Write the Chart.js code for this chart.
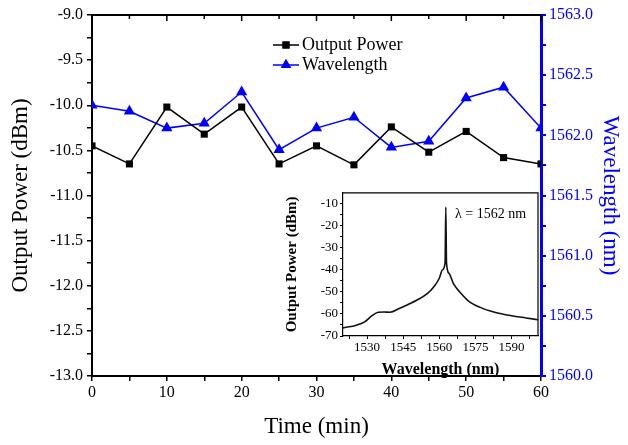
<!DOCTYPE html>
<html>
<head>
<meta charset="utf-8">
<script src="https://cdn.jsdelivr.net/npm/chart.js@4.4.0/dist/chart.umd.min.js"></script>
<style>
  html, body { margin: 0; padding: 0; background: #fff; }
  #wrap { position: relative; width: 628px; height: 445px; }
  #main { position: absolute; left: 0; top: 0; }
  #inset { position: absolute; left: 283px; top: 183px; }
</style>
</head>
<body>
<div id="wrap">
  <canvas id="main" width="628" height="445"></canvas>
  <canvas id="inset" width="257" height="200"></canvas>
</div>
<script>
// main chart data (time in min)
var times = [0, 5, 10, 15, 20, 25, 30, 35, 40, 45, 50, 55, 60];
var outputPower = [-10.45, -10.65, -10.02, -10.32, -10.02, -10.65, -10.45, -10.66, -10.24, -10.52, -10.29, -10.58, -10.65];
var wavelength = [1562.25, 1562.20, 1562.06, 1562.10, 1562.36, 1561.88, 1562.06, 1562.15, 1561.90, 1561.95, 1562.31, 1562.40, 1562.06];

// tick positions
var timeTicks = [0, 5, 10, 15, 20, 25, 30, 35, 40, 45, 50, 55, 60];
var powerTicks = [-13, -12.75, -12.5, -12.25, -12, -11.75, -11.5, -11.25, -11, -10.75, -10.5, -10.25, -10, -9.75, -9.5, -9.25, -9];
var wlTicks = [1560, 1560.25, 1560.5, 1560.75, 1561, 1561.25, 1561.5, 1561.75, 1562, 1562.25, 1562.5, 1562.75, 1563];

// inset spectrum
var specWl = [1520, 1525.6, 1529, 1531.8, 1534.6, 1537, 1539.5, 1543.6, 1547, 1550.6, 1555, 1558, 1560, 1561.3, 1562.4, 1562.7, 1563.0, 1564, 1566, 1568.5, 1572, 1577, 1583, 1590, 1596, 1601];
var specDbm = [-66.3, -65.1, -63.6, -61, -59.2, -59.1, -59.2, -57.4, -55.7, -53.8, -50.8, -47.3, -43.8, -40, -36.8, -11.5, -36.8, -41.5, -46.5, -50, -54, -57, -59.2, -60.8, -61.8, -62.6];
var specXTicks = [1522.5, 1530, 1537.5, 1545, 1552.5, 1560, 1567.5, 1575, 1582.5, 1590, 1597.5];
var specYTicks = [-70, -65, -60, -55, -50, -45, -40, -35, -30, -25, -20, -15, -10];

var serif = "'Liberation Serif', 'Times New Roman', serif";
var blue = '#0000ff';

function isMultiple(v, step) {
    return Math.abs(v / step - Math.round(v / step)) < 1e-6;
}

var pts1 = [], pts2 = [];
for (var i = 0; i < times.length; i++) {
    pts1.push({x: times[i], y: outputPower[i]});
    pts2.push({x: times[i], y: wavelength[i]});
}

// frame on top + inward ticks, and the legend inside the plot
var framePlugin = {
    id: 'frame',
    afterDraw: function(chart) {
        var ctx = chart.ctx, a = chart.chartArea, xs = chart.scales.x;
        ctx.save();
        ctx.strokeStyle = '#000';
        ctx.lineWidth = 2;
        ctx.beginPath();
        ctx.moveTo(a.left, a.top);
        ctx.lineTo(a.right, a.top);
        ctx.stroke();
        ctx.lineWidth = 1.5;
        timeTicks.forEach(function(t) {
            var px = xs.getPixelForValue(t);
            ctx.beginPath();
            ctx.moveTo(px, a.top);
            ctx.lineTo(px, a.top + (t % 10 === 0 ? 6 : 4));
            ctx.stroke();
        });

        // legend
        var rows = [
            {y: 45, color: '#000', style: 'rect', label: chart.data.datasets[0].label},
            {y: 65, color: blue, style: 'triangle', label: chart.data.datasets[1].label}
        ];
        ctx.font = '18px ' + serif;
        ctx.textBaseline = 'middle';
        rows.forEach(function(r) {
            ctx.strokeStyle = r.color;
            ctx.fillStyle = r.color;
            ctx.lineWidth = 1.5;
            ctx.beginPath();
            ctx.moveTo(273, r.y);
            ctx.lineTo(299, r.y);
            ctx.stroke();
            Chart.helpers.drawPoint(ctx, {pointStyle: r.style, radius: r.style === 'rect' ? 5 : 6, borderWidth: 0}, 286, r.y);
            ctx.fill();
            ctx.fillStyle = '#000';
            ctx.fillText(r.label, 302, r.y);
        });
        ctx.restore();
    }
};

var tickFont = {family: serif, size: 16};

new Chart(document.getElementById('main').getContext('2d'), {
    type: 'scatter',
    data: {
        datasets: [{
            label: 'Output Power',
            data: pts1,
            yAxisID: 'y',
            showLine: true,
            borderColor: '#000',
            backgroundColor: '#000',
            borderWidth: 1.5,
            pointStyle: 'rect',
            pointRadius: 5,
            pointBorderWidth: 0
        }, {
            label: 'Wavelength',
            data: pts2,
            yAxisID: 'y1',
            showLine: true,
            borderColor: blue,
            backgroundColor: blue,
            borderWidth: 1.5,
            pointStyle: 'triangle',
            pointRadius: 6.5,
            pointBorderWidth: 0
        }]
    },
    options: {
        responsive: false,
        animation: false,
        events: [],
        layout: {padding: {top: 15, left: 0, right: 0, bottom: 0}},
        plugins: {legend: {display: false}, tooltip: {enabled: false}},
        scales: {
            x: {
                type: 'linear', min: 0, max: 60,
                afterBuildTicks: function(s) { s.ticks = timeTicks.map(function(v) { return {value: v}; }); },
                afterFit: function(s) { s.height = 69; },
                grid: {drawOnChartArea: false, color: '#000', tickLength: 5, lineWidth: 1.5},
                border: {color: '#000', width: 2},
                ticks: {
                    color: '#000', font: tickFont, maxRotation: 0, autoSkip: false, padding: 2,
                    callback: function(v) { return v % 10 === 0 ? v : ''; }
                },
                title: {display: true, text: 'Time (min)', color: '#000', font: {family: serif, size: 23}, padding: {top: 13}}
            },
            y: {
                position: 'left', min: -13, max: -9,
                afterBuildTicks: function(s) { s.ticks = powerTicks.map(function(v) { return {value: v}; }); },
                afterFit: function(s) { s.width = 92; },
                grid: {drawOnChartArea: false, color: '#000', tickLength: 5, lineWidth: 1.5},
                border: {color: '#000', width: 2},
                ticks: {
                    color: '#000', font: tickFont, autoSkip: false, padding: 4,
                    callback: function(v) { return isMultiple(v, 0.5) ? v.toFixed(1) : ''; }
                },
                title: {display: true, text: 'Output Power (dBm)', color: '#000', font: {family: serif, size: 23}, padding: {top: 7, bottom: 0}}
            },
            y1: {
                position: 'right', min: 1560, max: 1563,
                afterBuildTicks: function(s) { s.ticks = wlTicks.map(function(v) { return {value: v}; }); },
                afterFit: function(s) { s.width = 87; },
                grid: {drawOnChartArea: false, color: blue, tickLength: 5, lineWidth: 2},
                border: {color: blue, width: 3},
                ticks: {
                    color: blue, font: tickFont, autoSkip: false, padding: 3,
                    callback: function(v) { return isMultiple(v, 0.5) ? v.toFixed(1) : ''; }
                },
                title: {display: true, text: 'Wavelength (nm)', color: blue, font: {family: serif, size: 23}, padding: {top: 4}}
            }
        }
    },
    plugins: [framePlugin]
});

// inset spectrum chart
var specPts = [];
for (var j = 0; j < specWl.length; j++) {
    specPts.push({x: specWl[j], y: specDbm[j]});
}

var insetPlugin = {
    id: 'insetFrame',
    beforeDraw: function(chart) {
        var ctx = chart.ctx, a = chart.chartArea;
        ctx.save();
        ctx.fillStyle = '#fff';
        ctx.fillRect(a.left, a.top, a.right - a.left, a.bottom - a.top);
        ctx.restore();
    },
    afterDraw: function(chart) {
        var ctx = chart.ctx, a = chart.chartArea;
        ctx.save();
        ctx.strokeStyle = '#000';
        ctx.lineWidth = 1.2;
        ctx.beginPath();
        ctx.moveTo(a.left, a.top);
        ctx.lineTo(a.right, a.top);
        ctx.lineTo(a.right, a.bottom);
        ctx.stroke();
        ctx.fillStyle = '#000';
        ctx.font = '14px ' + serif;
        ctx.textBaseline = 'middle';
        ctx.fillText('\u03bb = 1562 nm', 172, 31);
        ctx.restore();
    }
};

var insetTickFont = {family: serif, size: 13};

new Chart(document.getElementById('inset').getContext('2d'), {
    type: 'scatter',
    data: {
        datasets: [{
            data: specPts,
            showLine: true,
            borderColor: '#111',
            borderWidth: 1.6,
            pointRadius: 0,
            cubicInterpolationMode: 'monotone'
        }]
    },
    options: {
        responsive: false,
        animation: false,
        events: [],
        layout: {padding: {top: 7, right: 2, left: 0, bottom: 0}},
        plugins: {legend: {display: false}, tooltip: {enabled: false}},
        scales: {
            x: {
                type: 'linear', min: 1520, max: 1601,
                afterBuildTicks: function(s) { s.ticks = specXTicks.map(function(v) { return {value: v}; }); },
                afterFit: function(s) { s.height = 47; },
                grid: {drawOnChartArea: false, color: '#000', tickLength: 3},
                border: {color: '#000', width: 1.2},
                ticks: {
                    color: '#000', font: insetTickFont, maxRotation: 0, autoSkip: false, padding: 1,
                    callback: function(v) { return isMultiple(v, 15) ? v : ''; }
                },
                title: {display: true, text: 'Wavelength (nm)', color: '#000', font: {family: serif, size: 16, weight: 'bold'}, padding: {top: 2}}
            },
            y: {
                min: -70, max: -5,
                afterBuildTicks: function(s) { s.ticks = specYTicks.map(function(v) { return {value: v}; }); },
                afterFit: function(s) { s.width = 60; },
                grid: {drawOnChartArea: false, color: '#000', tickLength: 3},
                border: {color: '#000', width: 1.2},
                ticks: {
                    color: '#000', font: insetTickFont, autoSkip: false, padding: 2,
                    callback: function(v) { return v % 10 === 0 ? v : ''; }
                },
                title: {display: true, text: 'Output Power (dBm)', color: '#000', font: {family: serif, size: 15, weight: 'bold'}, padding: {top: 0, bottom: 1}}
            }
        }
    },
    plugins: [insetPlugin]
});
</script>
</body>
</html>
